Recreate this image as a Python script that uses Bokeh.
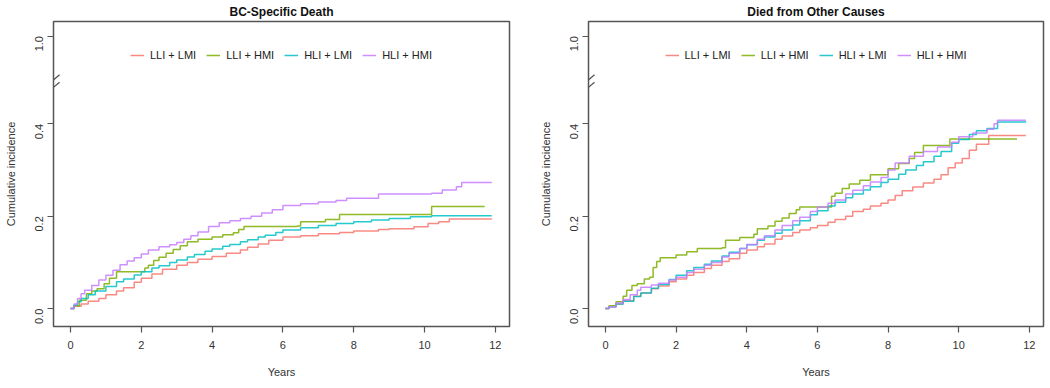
from bokeh.plotting import figure
from bokeh.layouts import row
from bokeh.models import FixedTicker, CustomJSTickFormatter, Range1d, Legend, LegendItem, Arrow
from bokeh.embed import file_html
from bokeh.resources import INLINE

FONT = "Liberation Sans"

series_names = ["LLI + LMI", "LLI + HMI", "HLI + LMI", "HLI + HMI"]
series_colors = ["#F8766D", "#7CAE00", "#00BFC4", "#C77CFF"]
x_ticks = [0, 2, 4, 6, 8, 10, 12]
y_ticks = [0.0, 0.2, 0.4]
y_top_label = "1.0"

# ---- Panel 1: BC-Specific Death ----
bc_red_t = [0, 0.1, 0.3, 0.5, 0.8, 1.0, 1.3, 1.5, 1.8, 2.0, 2.3, 2.6, 3.0, 3.3, 3.6, 4.0, 4.4, 4.8, 5.0, 5.3, 5.6, 6.0, 6.5, 7.0, 7.6, 8.0, 8.7, 9.0, 9.7, 10.1, 10.4, 10.7, 11.9]
bc_red_v = [0, 0.005, 0.01, 0.016, 0.022, 0.03, 0.038, 0.045, 0.057, 0.066, 0.075, 0.085, 0.094, 0.1, 0.107, 0.113, 0.12, 0.127, 0.133, 0.14, 0.148, 0.155, 0.158, 0.162, 0.165, 0.168, 0.171, 0.173, 0.177, 0.184, 0.188, 0.194, 0.194]

bc_green_t = [0, 0.1, 0.25, 0.45, 0.6, 0.75, 0.95, 1.1, 1.3, 2.0, 2.1, 2.2, 2.35, 2.5, 2.7, 2.9, 3.1, 3.3, 3.6, 4.0, 4.3, 4.6, 4.75, 4.9, 6.4, 6.5, 7.2, 7.6, 10.2, 11.7]
bc_green_v = [0, 0.006, 0.018, 0.032, 0.038, 0.043, 0.054, 0.066, 0.08, 0.08, 0.088, 0.094, 0.104, 0.111, 0.12, 0.128, 0.136, 0.145, 0.15, 0.155, 0.16, 0.164, 0.171, 0.178, 0.179, 0.188, 0.193, 0.204, 0.221, 0.221]

bc_cyan_t = [0, 0.1, 0.2, 0.3, 0.5, 0.7, 1.0, 1.3, 1.5, 1.8, 2.0, 2.3, 2.5, 2.8, 3.0, 3.3, 3.5, 3.8, 4.0, 4.3, 4.5, 4.8, 5.0, 5.3, 5.5, 5.8, 6.0, 6.5, 7.0, 7.5, 8.0, 8.5, 9.0, 9.6, 10.2, 11.9]
bc_cyan_v = [0, 0.008, 0.015, 0.022, 0.03, 0.038, 0.048, 0.058, 0.064, 0.073, 0.08, 0.088, 0.093, 0.1, 0.105, 0.112, 0.117, 0.124, 0.129, 0.135, 0.139, 0.145, 0.149, 0.155, 0.159, 0.165, 0.17, 0.175, 0.18, 0.184, 0.188, 0.192, 0.195, 0.199, 0.201, 0.201]

bc_purple_t = [0, 0.1, 0.2, 0.3, 0.4, 0.6, 0.8, 1.0, 1.2, 1.4, 1.6, 1.8, 2.0, 2.2, 2.5, 2.8, 3.0, 3.2, 3.4, 3.6, 3.9, 4.2, 4.5, 4.8, 5.1, 5.4, 5.7, 6.0, 6.5, 7.0, 7.5, 7.8, 8.7, 10.2, 10.5, 10.9, 11.05, 11.9]
bc_purple_v = [0, 0.01, 0.022, 0.032, 0.04, 0.05, 0.062, 0.072, 0.083, 0.095, 0.103, 0.11, 0.118, 0.127, 0.134, 0.138, 0.143, 0.15, 0.158, 0.166, 0.178, 0.186, 0.19, 0.195, 0.2, 0.207, 0.214, 0.223, 0.227, 0.231, 0.234, 0.239, 0.248, 0.25, 0.257, 0.264, 0.273, 0.273]

# ---- Panel 2: Died from Other Causes ----
oc_red_t = [0, 0.1, 0.3, 0.5, 0.8, 1.0, 1.3, 1.5, 1.8, 2.0, 2.3, 2.5, 2.8, 3.0, 3.3, 3.5, 3.8, 4.0, 4.3, 4.5, 4.8, 5.0, 5.3, 5.5, 5.8, 6.0, 6.3, 6.5, 6.8, 7.0, 7.3, 7.5, 7.8, 8.0, 8.2, 8.4, 8.7, 9.0, 9.3, 9.5, 9.7, 9.9, 10.1, 10.3, 10.5, 10.85, 11.9]
oc_red_v = [0, 0.004, 0.01, 0.017, 0.027, 0.034, 0.043, 0.049, 0.058, 0.064, 0.072, 0.078, 0.087, 0.094, 0.102, 0.108, 0.12, 0.127, 0.134, 0.14, 0.15, 0.157, 0.165, 0.17, 0.175, 0.18, 0.187, 0.193, 0.2, 0.21, 0.215, 0.222, 0.228, 0.235, 0.245, 0.255, 0.263, 0.272, 0.28, 0.29, 0.305, 0.315, 0.325, 0.343, 0.356, 0.375, 0.375]

oc_green_t = [0, 0.1, 0.3, 0.5, 0.6, 0.75, 0.9, 1.1, 1.25, 1.35, 1.45, 1.55, 2.0, 2.3, 2.6, 3.3, 3.4, 3.8, 4.2, 4.3, 4.6, 4.8, 5.0, 5.2, 5.4, 5.5, 6.4, 6.5, 6.7, 6.9, 7.2, 7.5, 8.0, 8.3, 8.6, 8.75, 9.0, 9.75, 11.65]
oc_green_v = [0, 0.006, 0.015, 0.027, 0.04, 0.05, 0.054, 0.064, 0.068, 0.089, 0.102, 0.11, 0.116, 0.123, 0.13, 0.132, 0.148, 0.154, 0.161, 0.173, 0.179, 0.189, 0.196, 0.206, 0.214, 0.22, 0.243, 0.25, 0.26, 0.27, 0.278, 0.29, 0.303, 0.314, 0.325, 0.338, 0.353, 0.367, 0.367]

oc_cyan_t = [0, 0.1, 0.3, 0.5, 0.8, 1.0, 1.3, 1.5, 1.8, 2.0, 2.3, 2.5, 2.8, 3.0, 3.3, 3.5, 3.8, 4.0, 4.3, 4.5, 4.8, 5.0, 5.3, 5.5, 5.8, 6.0, 6.3, 6.5, 6.8, 7.0, 7.3, 7.5, 7.8, 8.0, 8.3, 8.5, 8.8, 9.0, 9.3, 9.5, 9.8, 10.0, 10.3, 10.5, 10.8, 11.1, 11.9]
oc_cyan_v = [0, 0.004, 0.01, 0.016, 0.026, 0.034, 0.044, 0.052, 0.063, 0.072, 0.082, 0.089, 0.096, 0.103, 0.114, 0.122, 0.13, 0.138, 0.148, 0.155, 0.163, 0.17, 0.181, 0.19, 0.203, 0.212, 0.222, 0.23, 0.24, 0.248, 0.257, 0.264, 0.273, 0.28, 0.291, 0.3, 0.31, 0.318, 0.33, 0.34, 0.358, 0.366, 0.377, 0.385, 0.39, 0.404, 0.405]

oc_purple_t = [0, 0.1, 0.3, 0.5, 0.7, 0.9, 1.0, 1.3, 1.5, 1.8, 2.0, 2.3, 2.5, 2.8, 3.0, 3.3, 3.5, 3.8, 4.0, 4.3, 4.5, 4.8, 5.0, 5.3, 5.5, 5.8, 6.0, 6.3, 6.5, 6.8, 7.0, 7.3, 7.5, 7.8, 8.0, 8.2, 8.6, 9.0, 9.4, 9.8, 10.0, 10.4, 10.8, 11.0, 11.1, 11.9]
oc_purple_v = [0, 0.004, 0.012, 0.02, 0.03, 0.04, 0.046, 0.051, 0.055, 0.062, 0.068, 0.078, 0.085, 0.094, 0.1, 0.112, 0.12, 0.13, 0.139, 0.15, 0.158, 0.17, 0.18, 0.19, 0.198, 0.21, 0.22, 0.228, 0.235, 0.248, 0.256, 0.266, 0.274, 0.284, 0.3, 0.315, 0.33, 0.34, 0.35, 0.36, 0.372, 0.38, 0.388, 0.4, 0.408, 0.408]

panels = [
    ("BC-Specific Death",
     [(bc_red_t, bc_red_v), (bc_green_t, bc_green_v), (bc_cyan_t, bc_cyan_v), (bc_purple_t, bc_purple_v)]),
    ("Died from Other Causes",
     [(oc_red_t, oc_red_v), (oc_green_t, oc_green_v), (oc_cyan_t, oc_cyan_v), (oc_purple_t, oc_purple_v)]),
]

# axis-break geometry (plotted position of the "1.0" tick and the break marks)
TOP_TICK_POS = 0.59
BREAK_POS = 0.495
AXIS_COLOR = "#555555"


def make_panel(title, data, width, border_left, border_right):
    p = figure(width=width, height=380, output_backend="svg", toolbar_location=None,
               x_range=Range1d(-0.48, 12.4), y_range=Range1d(-0.0387, 0.6215),
               min_border_left=border_left, min_border_right=border_right,
               min_border_top=21, min_border_bottom=52)
    p.title.text = title
    p.title.align = "center"
    p.title.text_font = FONT
    p.title.text_font_size = "12px"
    p.title.text_font_style = "bold"
    p.title.text_color = "#111111"
    p.title.standoff = 5
    p.title.offset = 0
    p.xgrid.visible = False
    p.ygrid.visible = False
    p.outline_line_color = AXIS_COLOR
    p.outline_line_width = 1.5
    p.background_fill_color = "white"
    p.border_fill_color = "white"

    for ax in (p.xaxis[0], p.yaxis[0]):
        ax.axis_line_color = None
        ax.major_tick_line_color = AXIS_COLOR
        ax.major_tick_line_width = 1.2
        ax.major_tick_out = 6
        ax.major_tick_in = 0
        ax.minor_tick_line_color = None
        ax.major_label_text_font = FONT
        ax.major_label_text_font_size = "11px"
        ax.major_label_text_color = "#333333"
        ax.axis_label_text_font = FONT
        ax.axis_label_text_font_size = "11px"
        ax.axis_label_text_font_style = "normal"
        ax.axis_label_text_color = "#333333"

    p.xaxis.ticker = FixedTicker(ticks=x_ticks)
    p.xaxis.major_label_standoff = 8
    p.xaxis.axis_label = "Years"
    p.xaxis.axis_label_standoff = 14

    p.yaxis.ticker = FixedTicker(ticks=y_ticks + [TOP_TICK_POS])
    p.yaxis.formatter = CustomJSTickFormatter(
        args=dict(lab=y_top_label),
        code="return tick > 0.5 ? lab : tick.toFixed(1);")
    p.yaxis.major_label_orientation = 3.14159265 / 2
    p.yaxis.major_label_standoff = 8
    p.yaxis.axis_label = "Cumulative incidence"
    p.yaxis.axis_label_standoff = 12

    items = []
    for (t, v), name, col in zip(data, series_names, series_colors):
        r = p.step(t, v, mode="after", line_color=col, line_width=1.5, line_alpha=0.85)
        items.append(LegendItem(label=name, renderers=[r]))

    legend = Legend(items=items, orientation="horizontal", location="top_center",
                    border_line_color=None, background_fill_alpha=0,
                    label_text_font=FONT, label_text_font_size="11px",
                    label_text_color="#222222",
                    glyph_width=14, glyph_height=14, label_height=14,
                    label_standoff=6, spacing=10, padding=0, margin=27)
    p.add_layout(legend, "center")

    # axis break marks "//" across the left edge
    dx = 0.17
    for off in (0.0, -0.016):
        p.add_layout(Arrow(end=None, x_start=-0.48 - dx, y_start=BREAK_POS - 0.011 + off,
                           x_end=-0.48 + dx, y_end=BREAK_POS + 0.011 + off,
                           line_color=AXIS_COLOR, line_width=1.3))
    return p


p1 = make_panel(panels[0][0], panels[0][1], width=525, border_left=53, border_right=16)
p2 = make_panel(panels[1][0], panels[1][1], width=521, border_left=63, border_right=3)
layout = row(p1, p2)

open("out.html", "w").write(file_html(layout, INLINE))
